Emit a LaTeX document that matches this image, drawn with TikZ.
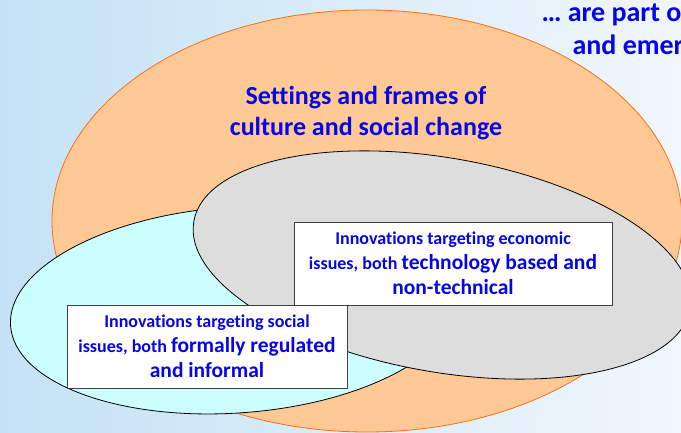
\documentclass[tikz,border=0pt]{standalone}
\usepackage{fontspec}
\setmainfont[Ligatures=NoCommon]{Carlito}
\definecolor{bgblue}{RGB}{196,226,246}
\definecolor{bglight}{RGB}{241,247,252}
\definecolor{peach}{RGB}{255,201,150}
\definecolor{peachline}{RGB}{255,110,20}
\definecolor{paleblue}{RGB}{204,255,255}
\definecolor{ovalgray}{RGB}{221,221,221}
\definecolor{textblue}{RGB}{5,5,230}
\newcommand{\largerpart}[1]{{\fontsize{21.5}{25}\selectfont #1}}

\begin{document}
\begin{tikzpicture}[x=1pt,y=1pt,
  oval/.style={draw=black,line width=0.8pt},
  infobox/.style={draw=black!75,fill=white,line width=0.9pt,align=center,
    text=textblue,font=\bfseries\fontsize{18}{25}\selectfont,inner sep=0pt}]
\useasboundingbox (0,0) rectangle (681,432);
\shade[left color=bgblue,right color=bglight] (0,0) rectangle (681,432);
\clip (0,0) rectangle (681,432);
% the three ovals
\draw [oval,draw=peachline,fill=peach] (367,211) ellipse [x radius=315,y radius=211];
\draw [oval,fill=paleblue,rotate around={4:(235,122)}] (235,122) ellipse [x radius=225,y radius=103];
\draw [oval,fill=ovalgray,rotate around={-10:(442,167)}] (442,167) ellipse [x radius=252,y radius=107];
% texts
\node [text=textblue,font=\bfseries\fontsize{26}{31}\selectfont,align=center] (frames) at (366,319)
  {Settings and frames of\\culture and social change};
\node [anchor=base west,text=textblue,font=\bfseries\fontsize{28}{31}\selectfont] (partof) at (538,410) {… are part o};
\node [anchor=base west,text=textblue,font=\bfseries\fontsize{28}{31}\selectfont] (emer) at (569,377) {and emer};
% boxes
\node [infobox,minimum width=318pt,minimum height=83pt] (econ) at (453,168.5)
  {Innovations targeting economic\\issues, both \largerpart{technology based and}\\\largerpart{non-technical}};
\node [infobox,minimum width=280pt,minimum height=83pt] (social) at (207,85.5)
  {Innovations targeting social\\issues, both \largerpart{formally regulated}\\\largerpart{and informal}};
\end{tikzpicture}
\end{document}
